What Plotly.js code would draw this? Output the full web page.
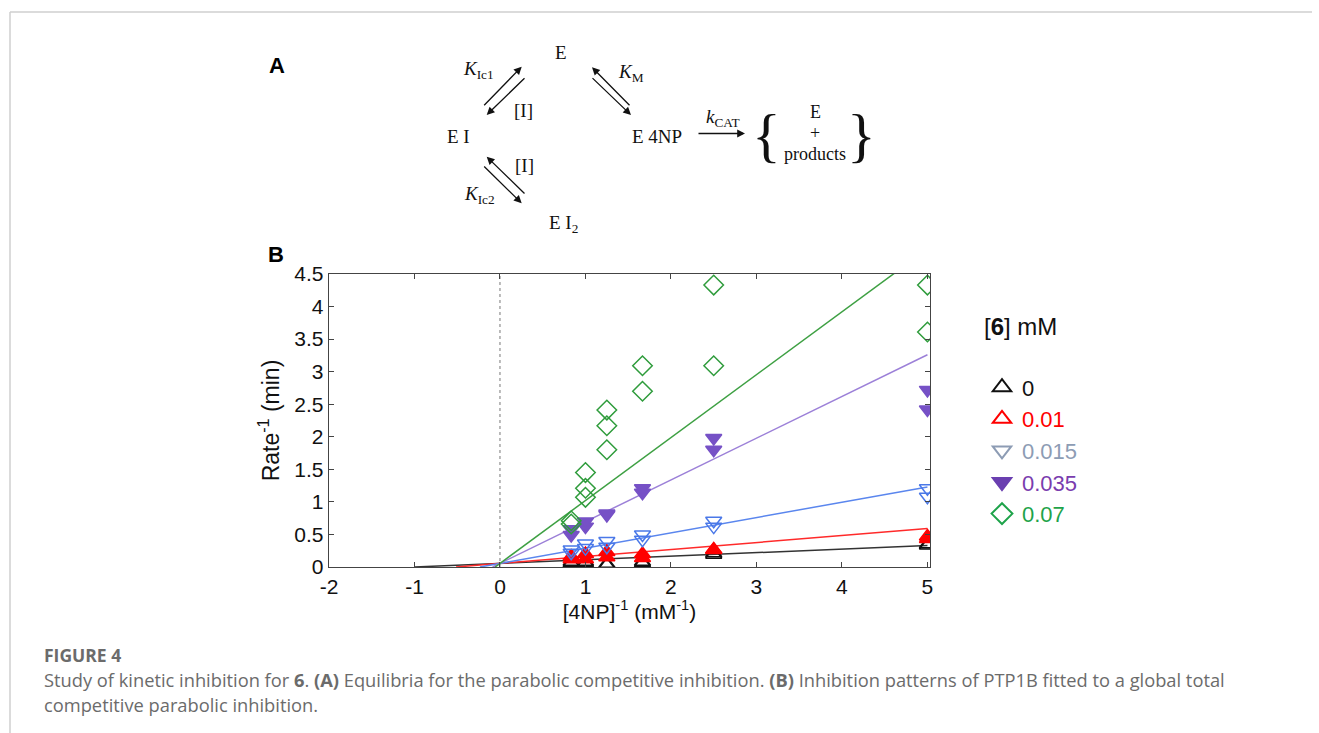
<!DOCTYPE html>
<html>
<head>
<meta charset="utf-8">
<script src="https://cdn.plot.ly/plotly-3.0.1.min.js"></script>
<style>
html,body{margin:0;padding:0;background:#fff;}
#chart{width:1319px;height:733px;}
</style>
</head>
<body>
<div id="chart"></div>
<script>
// ---------- data ----------
const seriesNames = ['0', '0.01', '0.015', '0.035', '0.07'];
const invS = [0.833, 0.833, 1, 1, 1.25, 1.25, 1.667, 1.667, 2.5, 2.5, 5, 5];
const rate0    = [0.06, 0.08, 0.06, 0.08, 0.03, 0.05, 0.06, 0.08, 0.19, 0.21, 0.33, 0.35];
const rate001  = [0.12, 0.16, 0.12, 0.20, 0.15, 0.23, 0.14, 0.20, 0.26, 0.27, 0.43, 0.47];
const rate0015 = [0.22, 0.27, 0.29, 0.36, 0.31, 0.40, 0.42, 0.50, 0.62, 0.71, 1.08, 1.21];
const rate0035 = [0.49, 0.58, 0.62, 0.70, 0.80, 0.82, 1.14, 1.21, 1.80, 1.98, 2.42, 2.72];
const invS007  = [0.833, 0.833, 1, 1, 1, 1.25, 1.25, 1.25, 1.667, 1.667, 2.5, 2.5, 5, 5];
const rate007  = [0.66, 0.71, 1.07, 1.21, 1.45, 1.80, 2.17, 2.41, 2.70, 3.09, 3.09, 4.33, 3.61, 4.33];
// global fit: common intercept (1/Vmax) and slope of each line
const fitIntercept = 0.055;
const fitSlopes = [0.055, 0.107, 0.235, 0.641, 0.966];
const xTickVals = [-2, -1, 0, 1, 2, 3, 4, 5];
const xTickText = ['-2', '-1', '0', '1', '2', '3', '4', '5'];

// ---------- styles ----------
const markerColors = ['#111111', '#ff0000', '#4a78e8', '#7651c6', '#2f9c3c'];
const lineColors   = ['#333333', '#ff2a2a', '#5a86ee', '#9c80d8', '#3ea043'];
const legendColors = ['#111111', '#ff0000', '#8d9cb4', '#7a3cae', '#1ea34a'];
const legendSymbols = ['triangle-up-open', 'triangle-up-open', 'triangle-down-open', 'triangle-down', 'diamond-open'];
const legendMarkerColors = ['#111111', '#ff0000', '#8d9cb4', '#6a3fb0', '#1ea34a'];
const plotSymbols = ['triangle-up-open', 'triangle-up', 'triangle-down-open', 'triangle-down', 'diamond-open'];

const xs = [invS, invS, invS, invS, invS007];
const ys = [rate0, rate001, rate0015, rate0035, rate007];

const traces = [];
// fitted lines (from x-intercept to x = 5)
fitSlopes.forEach((m, i) => {
  const x0 = -fitIntercept / m;
  const x1 = 5;
  traces.push({
    x: [x0, x1], y: [fitIntercept + m * x0, fitIntercept + m * x1],
    mode: 'lines', line: {color: lineColors[i], width: 1.5},
    showlegend: false, hoverinfo: 'skip'
  });
});
// data points
ys.forEach((yv, i) => {
  traces.push({
    x: xs[i], y: yv, mode: 'markers', showlegend: false,
    marker: {symbol: plotSymbols[i], size: i === 4 ? 15 : 14, color: markerColors[i],
             line: {color: markerColors[i], width: 1.5}}
  });
});
// legend entries
seriesNames.forEach((nm, i) => {
  traces.push({
    x: [null], y: [null], mode: 'markers', showlegend: true,
    name: '<span style="color:' + legendColors[i] + '">' + nm + '</span>',
    marker: {symbol: legendSymbols[i], size: 17, color: legendMarkerColors[i],
             line: {color: legendMarkerColors[i], width: 2}}
  });
});

// ---------- page geometry helpers (pixel -> paper) ----------
const L = 329, R = 930, T = 274, B = 567;
const px = x => (x - L) / (R - L);
const py = y => (B - y) / (B - T);

const serif = 'Liberation Serif, Times New Roman, serif';
const sans = 'Liberation Sans, Arial, sans-serif';
function txt(x, y, text, size, opts) {
  return Object.assign({
    xref: 'paper', yref: 'paper', x: px(x), y: py(y), text: text,
    showarrow: false, xanchor: 'center', yanchor: 'middle',
    font: {family: serif, size: size, color: '#111'}
  }, opts || {});
}
function arrow(hx, hy, tx, ty) {
  return {
    xref: 'paper', yref: 'paper', x: px(hx), y: py(hy), text: '',
    showarrow: true, axref: 'pixel', ayref: 'pixel', ax: tx - hx, ay: ty - hy,
    arrowhead: 2, arrowsize: 1.2, arrowwidth: 1.3, arrowcolor: '#111', standoff: 0
  };
}
const capFont = {family: 'Open Sans, sans-serif', size: 18.3, color: '#6b6b6b'};

const annotations = [
  // panel labels
  txt(277, 65, '<b>A</b>', 22, {font: {family: sans, size: 22, color: '#000'}}),
  txt(276, 255, '<b>B</b>', 22, {font: {family: sans, size: 22, color: '#000'}}),
  // scheme text
  txt(561, 52, 'E', 19),
  txt(478, 70, '<i>K</i><sub>Ic1</sub>', 19),
  txt(523, 110, '[I]', 19),
  txt(458, 136, 'E I', 19),
  txt(631, 73, '<i>K</i><sub>M</sub>', 19),
  txt(657, 136, 'E 4NP', 19),
  txt(723, 118, '<i>k</i><sub>CAT</sub>', 19),
  txt(766, 135, '{', 60, {font: {family: serif, size: 60, color: '#111'}}),
  txt(815, 112, 'E', 18),
  txt(815, 133, '+', 18),
  txt(815, 154, 'products', 18),
  txt(861, 135, '}', 60, {font: {family: serif, size: 60, color: '#111'}}),
  txt(524, 165, '[I]', 19),
  txt(479, 195, '<i>K</i><sub>Ic2</sub>', 19),
  txt(563, 224, 'E I<sub>2</sub>', 19),
  // scheme arrows
  arrow(521.7, 66.7, 482.7, 106.7),
  arrow(486.7, 115, 526, 76.7),
  arrow(592, 67.3, 631, 106.7),
  arrow(631, 115, 591, 76.7),
  arrow(745, 133.5, 697, 133.5),
  arrow(486.7, 156.7, 526, 195),
  arrow(521.7, 203.3, 482.7, 165),
  // caption
  txt(42, 655, '<b>FIGURE 4</b>', 17.5, {xanchor: 'left', font: {family: 'Open Sans, sans-serif', size: 17.5, color: '#6b6b6b'}}),
  txt(42, 679, 'Study of kinetic inhibition for <b>6</b>. <b>(A)</b> Equilibria for the parabolic competitive inhibition. <b>(B)</b> Inhibition patterns of PTP1B fitted to a global total', 18.3,
      {xanchor: 'left', font: capFont}),
  txt(42, 704, 'competitive parabolic inhibition.', 18.3, {xanchor: 'left', font: capFont})
];

const shapes = [
  // page frame lines
  {type: 'line', xref: 'paper', yref: 'paper', x0: px(10), x1: px(1312), y0: py(12), y1: py(12), line: {color: '#cfcfcf', width: 1.5}},
  {type: 'line', xref: 'paper', yref: 'paper', x0: px(10), x1: px(10), y0: py(12), y1: py(733), line: {color: '#cfcfcf', width: 1.5}},
  // dotted line at x = 0
  {type: 'line', xref: 'x', yref: 'paper', x0: 0, x1: 0, y0: 0, y1: 1, line: {color: '#777', width: 1, dash: 'dot'}, layer: 'below'}
];

const axisCommon = {
  showgrid: false, zeroline: false, showline: true, mirror: 'ticks',
  linecolor: '#444', linewidth: 1.3, ticks: 'inside', ticklen: 5, tickcolor: '#444',
  tickfont: {family: sans, size: 21, color: '#111'}
};

const layout = {
  width: 1319, height: 733,
  margin: {l: L, r: 1319 - R, t: T, b: 733 - B},
  paper_bgcolor: '#fff', plot_bgcolor: '#fff',
  showlegend: true,
  legend: {
    x: px(982), y: py(304), xanchor: 'left', yanchor: 'top',
    font: {family: sans, size: 22, color: '#111'},
    title: {text: '[<b>6</b>] mM<br> ', font: {family: sans, size: 24, color: '#111'}},
    bgcolor: 'rgba(0,0,0,0)', tracegroupgap: 0, itemwidth: 30
  },
  xaxis: Object.assign({}, axisCommon, {
    range: [-2, 5.03], tickvals: xTickVals, ticktext: xTickText,
    title: {text: '[4NP]<sup>-1</sup> (mM<sup>-1</sup>)', font: {family: sans, size: 21, color: '#111'}, standoff: 5}
  }),
  yaxis: Object.assign({}, axisCommon, {
    range: [0, 4.5], dtick: 0.5,
    title: {text: 'Rate<sup>-1</sup> (min)', font: {family: sans, size: 23, color: '#111'}, standoff: 8}
  }),
  annotations: annotations,
  shapes: shapes
};

Plotly.newPlot('chart', traces, layout, {displayModeBar: false, staticPlot: true});
</script>
</body>
</html>
